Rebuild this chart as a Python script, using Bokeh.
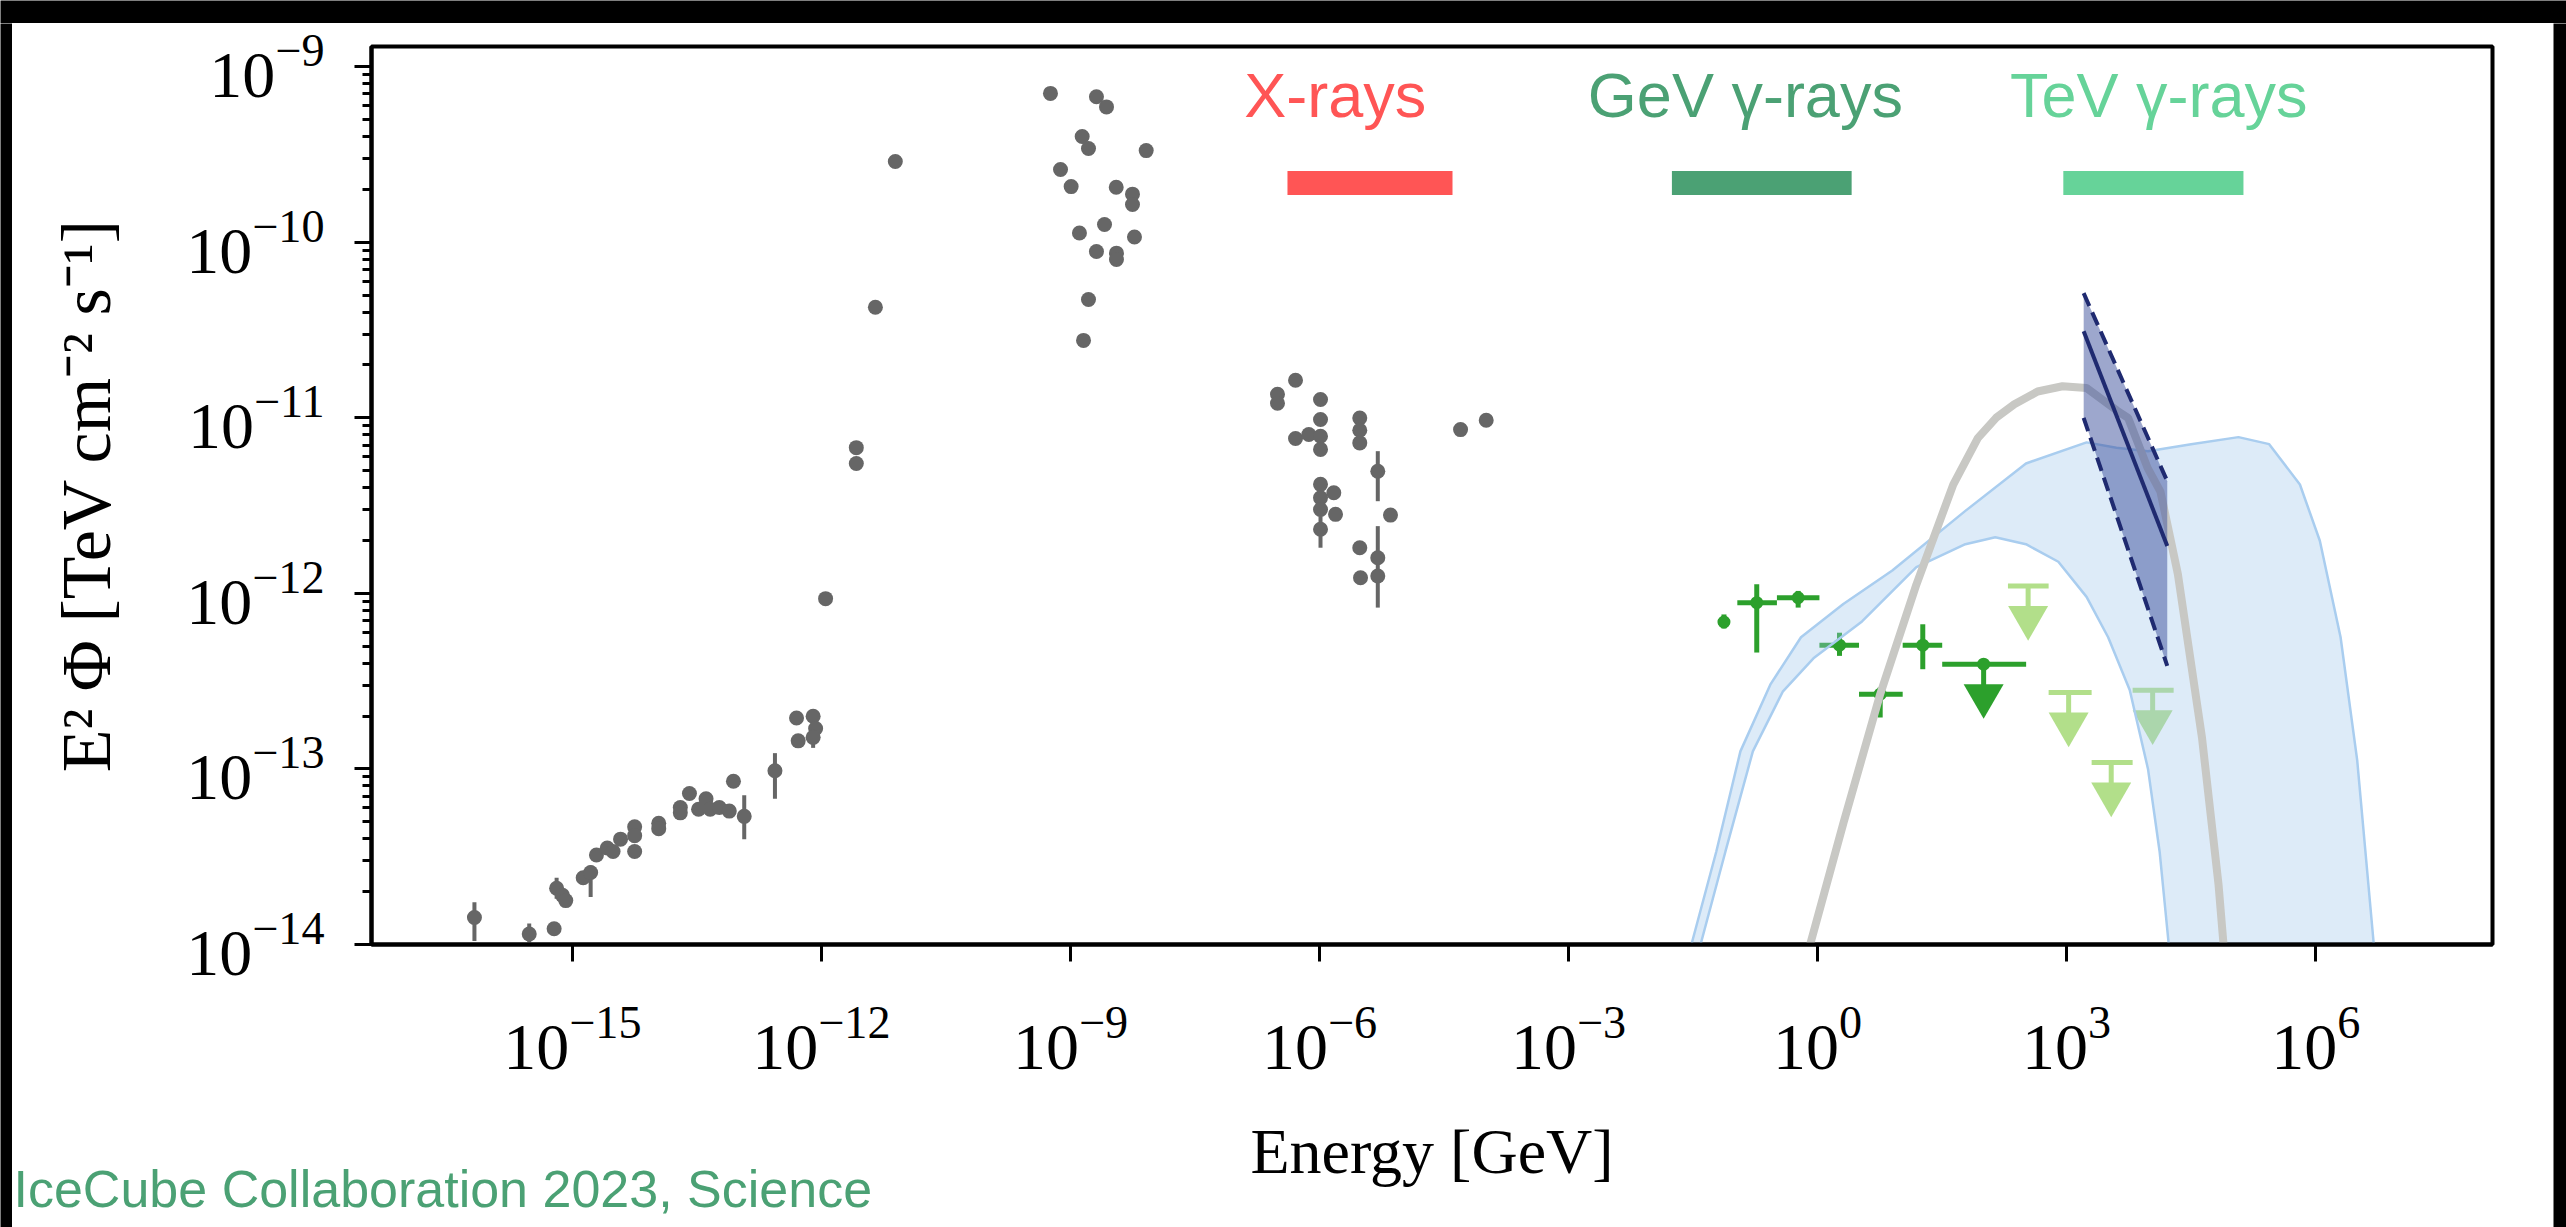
import numpy as np
from bokeh.plotting import figure
from bokeh.layouts import column, row
from bokeh.models import Range1d, FixedTicker, LogTickFormatter, Label
from bokeh.embed import file_html
from bokeh.resources import INLINE
from bokeh.core.properties import value

# ---------------- data: log10(E / GeV) and log10(E^2 Phi / TeV cm^-2 s^-1) ----------------
# multi-wavelength SED (grey points)
sed_log_e = [-16.18, -15.52, -15.22, -15.19, -15.12, -15.08, -14.87, -14.78, -14.71, -14.58,
             -14.51, -14.42, -14.25, -14.25, -14.25, -13.96, -13.96, -13.70, -13.70, -13.59,
             -13.48, -13.39, -13.34, -13.23, -13.11, -13.06, -12.93, -12.56, -12.30, -12.10,
             -12.07, -12.28, -12.10, -11.95, -11.58, -11.58, -11.35, -11.11,
             -9.241, -8.687, -8.566, -8.859, -8.783, -8.088, -9.120, -8.992, -8.449, -8.253,
             -8.253, -8.590, -8.892, -8.229, -8.687, -8.446, -8.446, -8.783, -8.843,
             -6.506, -6.506, -6.289, -5.988, -5.988, -6.289, -6.129, -5.988, -5.988, -5.515,
             -5.515, -5.515, -5.298, -5.988, -5.988, -5.988, -5.828, -5.807, -5.988, -5.145,
             -5.515, -5.298, -5.506, -5.298, -4.301, -3.992]
sed_log_f = [-13.846, -13.94, -13.91, -13.68, -13.72, -13.75, -13.62, -13.59, -13.49, -13.45,
             -13.47, -13.40, -13.33, -13.38, -13.47, -13.31, -13.34, -13.22, -13.25, -13.14,
             -13.23, -13.17, -13.23, -13.22, -13.24, -13.07, -13.27, -13.01, -12.71, -12.70,
             -12.77, -12.84, -12.82, -12.03, -11.17, -11.26, -10.37, -9.54,
             -9.152, -9.171, -9.229, -9.398, -9.466, -9.478, -9.586, -9.683, -9.687, -9.726,
             -9.785, -9.899, -9.947, -9.970, -10.053, -10.062, -10.098, -10.326, -10.559,
             -10.866, -10.917, -10.786, -10.896, -11.010, -11.118, -11.095, -11.105, -11.180, -11.001,
             -11.071, -11.143, -11.304, -11.379, -11.456, -11.522, -11.427, -11.550, -11.635, -11.554,
             -11.740, -11.797, -11.911, -11.901, -11.067, -11.014]
sed_err_log_e = [-16.18, -15.52, -15.19, -14.78, -12.93, -12.56, -12.10, -5.298, -5.988, -5.298]
sed_err_log_lo = [-13.98, -13.99, -13.74, -13.73, -13.40, -13.17, -12.88, -11.475, -11.74, -12.081]
sed_err_log_hi = [-13.76, -13.88, -13.62, -13.55, -13.15, -12.91, -12.66, -11.190, -11.56, -11.617]

# Fermi-LAT GeV points (dark green)
gev_log_e = [-1.128, -0.733, -0.234, 0.264, 0.754, 1.267]
gev_log_e_lo = [-1.20, -0.967, -0.490, 0.022, 0.499, 1.025]
gev_log_e_hi = [-1.06, -0.490, 0.022, 0.499, 1.025, 1.501]
gev_log_f = [-12.163, -12.053, -12.025, -12.295, -12.574, -12.295]
gev_log_f_lo = [-12.20, -12.337, -12.081, -12.356, -12.707, -12.432]
gev_log_f_hi = [-12.12, -11.948, -11.986, -12.224, -12.536, -12.176]
# GeV upper limit (dark green)
gev_ul_log_e = [2.00]
gev_ul_log_e_lo = [1.501]
gev_ul_log_e_hi = [2.512]
gev_ul_log_f = [-12.403]
# TeV upper limits (light green)
tev_ul_log_e = [2.536, 3.024, 3.537, 4.036]
tev_ul_log_e_lo = [2.293, 2.783, 3.301, 3.795]
tev_ul_log_e_hi = [2.783, 3.301, 3.795, 4.289]
tev_ul_log_f = [-11.958, -12.565, -12.963, -12.552]

# model curve (grey)
model_log_e = [-0.30, -0.09, 0.31, 0.754, 1.19, 1.634, 1.93, 2.15, 2.37, 2.65, 2.95, 3.24, 3.61,
               3.74, 3.975, 4.13, 4.34, 4.63, 4.83, 4.89, 4.95]
model_log_f = [-14.6, -14.0, -13.31, -12.574, -11.95, -11.38, -11.116, -11.00, -10.923, -10.85,
               -10.82, -10.83, -10.96, -11.0, -11.285, -11.42, -11.89, -12.82, -13.66, -14.0, -14.6]

# model uncertainty band (light blue): upper and lower edges
band_up_log_e = [-1.60, -1.52, -1.22, -0.93, -0.57, -0.20, 0.31, 0.90, 1.78, 2.51, 3.24, 3.60,
                 3.98, 4.50, 5.07, 5.44, 5.81, 6.05, 6.30, 6.50, 6.70, 6.80]
band_up_log_f = [-14.6, -14.0, -13.47, -12.90, -12.52, -12.25, -12.06, -11.87, -11.53, -11.26,
                 -11.14, -11.17, -11.19, -11.15, -11.11, -11.15, -11.38, -11.70, -12.25, -12.95,
                 -14.0, -14.6]
band_lo_log_e = [-1.45, -1.41, -1.11, -0.78, -0.42, -0.05, 0.535, 1.19, 1.78, 2.14, 2.51, 2.90,
                 3.24, 3.50, 3.76, 3.98, 4.12, 4.23, 4.27]
band_lo_log_f = [-14.6, -14.0, -13.47, -12.90, -12.56, -12.37, -12.16, -11.85, -11.72, -11.68,
                 -11.72, -11.82, -12.02, -12.25, -12.55, -13.00, -13.47, -14.0, -14.6]

# IceCube neutrino power law (butterfly)
nu_log_e = [3.205, 4.212]
nu_log_f_best = [-10.507, -11.730]
nu_log_f_up = [-10.290, -11.361]
nu_log_f_lo = [-11.000, -12.413]

# energy-band annotations
band_names = ["X-rays", "GeV \u03b3-rays", "TeV \u03b3-rays"]
band_log_e_lo = [-6.386, -1.755, 2.96]
band_log_e_hi = [-4.398, 0.41, 5.13]
band_label_log_e = [-5.81, -0.87, 4.11]
band_colors = ["#FF5555", "#4BA174", "#66D399"]

x_tick_exps = [-15, -12, -9, -6, -3, 0, 3, 6]
y_tick_exps = [-14, -13, -12, -11, -10, -9]

x_title = "Energy [GeV]"
y_title = "E\u00b2 \u03a6 [TeV cm\u207b\u00b2 s\u207b\u00b9]"
credit_text = "IceCube Collaboration 2023, Science"

# ---------------- helpers ----------------
def tp(a):
    return [10.0 ** v for v in a]

def no_title(fig):
    if fig.title is not None:
        fig.title.visible = False
    fig.title_location = None

SERIF = "Liberation Serif"
SANS = "Liberation Sans"
GREY = "#666666"
DKGREEN = "#2ca02c"
LTGREEN = "#b2df8a"
NAVY = "#1f2a70"

FRAME_L, FRAME_R, FRAME_T, FRAME_B = 359, 61, 23, 172
MAIN_W = 2541
MAIN_H = FRAME_T + 898 + FRAME_B   # chart canvas (frame + axes)
LOWER_H = 1204 - MAIN_H            # strip below it: x title and credit line

p = figure(width=MAIN_W, height=MAIN_H, x_axis_type="log", y_axis_type="log",
           x_range=Range1d(10 ** -17.42, 10 ** 8.13), y_range=Range1d(1e-14, 10 ** -8.885),
           output_backend="svg", toolbar_location=None,
           min_border_left=FRAME_L, min_border_right=FRAME_R, min_border_top=FRAME_T,
           min_border_bottom=FRAME_B)
no_title(p)
p.background_fill_color = "white"
p.border_fill_color = "white"
p.grid.visible = False
p.outline_line_color = "black"
p.outline_line_width = 4

# axes
p.xaxis.ticker = FixedTicker(ticks=[10.0 ** k for k in x_tick_exps], minor_ticks=[])
p.yaxis.ticker = FixedTicker(ticks=[10.0 ** k for k in y_tick_exps],
                             minor_ticks=[m * 10.0 ** k for k in range(-15, -8) for m in range(2, 10)])
for ax in (p.xaxis[0], p.yaxis[0]):
    ax.formatter = LogTickFormatter()
    ax.axis_line_width = 4
    ax.axis_line_color = "black"
    ax.major_tick_line_width = 3
    ax.minor_tick_line_width = 3
    ax.major_tick_in = 0
    ax.minor_tick_in = 0
    ax.major_tick_out = 17
    ax.minor_tick_out = 9
    ax.major_label_text_font = SERIF
    ax.major_label_text_font_size = "66px"
    ax.major_label_text_color = "black"
    ax.axis_label_text_font = SERIF
    ax.axis_label_text_font_style = "normal"
    ax.axis_label_text_color = "black"
p.xaxis.minor_tick_out = 0
p.xaxis.major_label_standoff = 46
p.yaxis.major_label_standoff = 30
p.yaxis.axis_label = y_title
p.yaxis.axis_label_text_font_size = "70px"
p.yaxis.axis_label_standoff = 58

# grey SED
p.segment(x0=tp(sed_err_log_e), x1=tp(sed_err_log_e), y0=tp(sed_err_log_lo), y1=tp(sed_err_log_hi),
          line_color=GREY, line_width=4)
p.scatter(x=tp(sed_log_e), y=tp(sed_log_f), size=15, color=GREY, line_width=0)

# GeV points
p.segment(x0=tp(gev_log_e_lo), x1=tp(gev_log_e_hi), y0=tp(gev_log_f), y1=tp(gev_log_f),
          line_color=DKGREEN, line_width=5)
p.segment(x0=tp(gev_log_e), x1=tp(gev_log_e), y0=tp(gev_log_f_lo), y1=tp(gev_log_f_hi),
          line_color=DKGREEN, line_width=5)
p.scatter(x=tp(gev_log_e), y=tp(gev_log_f), size=13, color=DKGREEN, line_width=0)

UL_DROP = 10 ** -0.18
def upper_limits(le, llo, lhi, lf, color, dot):
    f = tp(lf)
    p.segment(x0=tp(llo), x1=tp(lhi), y0=f, y1=f, line_color=color, line_width=5)
    p.segment(x0=tp(le), x1=tp(le), y0=f, y1=[v * UL_DROP for v in f], line_color=color, line_width=5)
    p.scatter(x=tp(le), y=[v * UL_DROP for v in f], marker="inverted_triangle", size=40,
              color=color, line_width=0)
    if dot:
        p.scatter(x=tp(le), y=f, size=13, color=color, line_width=0)

upper_limits(gev_ul_log_e, gev_ul_log_e_lo, gev_ul_log_e_hi, gev_ul_log_f, DKGREEN, True)
upper_limits(tev_ul_log_e, tev_ul_log_e_lo, tev_ul_log_e_hi, tev_ul_log_f, LTGREEN, False)

# uncertainty band
bx = tp(band_up_log_e) + tp(band_lo_log_e)[::-1]
by = tp(band_up_log_f) + tp(band_lo_log_f)[::-1]
p.patch(x=bx, y=by, fill_color="#9ec5ea", fill_alpha=0.35, line_color=None)
p.line(x=tp(band_up_log_e), y=tp(band_up_log_f), line_color="#a9cdef", line_width=2.5)
p.line(x=tp(band_lo_log_e), y=tp(band_lo_log_f), line_color="#a9cdef", line_width=2.5)

# model curve
p.line(x=tp(model_log_e), y=tp(model_log_f), line_color="#c8c8c4", line_width=8)

# IceCube butterfly
p.patch(x=tp(nu_log_e) + tp(nu_log_e)[::-1], y=tp(nu_log_f_up) + tp(nu_log_f_lo)[::-1],
        fill_color="#3b4f9c", fill_alpha=0.5, line_color=None)
p.line(x=tp(nu_log_e), y=tp(nu_log_f_up), line_color=NAVY, line_width=4, line_dash="14 7")
p.line(x=tp(nu_log_e), y=tp(nu_log_f_lo), line_color=NAVY, line_width=4, line_dash="14 7")
p.line(x=tp(nu_log_e), y=tp(nu_log_f_best), line_color=NAVY, line_width=4)

# energy band markers
BAR_TOP = 10 ** -9.594
BAR_BOTTOM = 10 ** -9.731
LABEL_Y = 10 ** -9.16
p.quad(left=tp(band_log_e_lo), right=tp(band_log_e_hi), top=BAR_TOP, bottom=BAR_BOTTOM,
       fill_color=band_colors, line_color=None)
p.text(x=tp(band_label_log_e), y=[LABEL_Y] * 3, text=band_names, text_color=band_colors,
       text_font=value(SANS), text_font_size="63px", text_align="center",
       text_baseline="alphabetic")

# ---------------- lower strip (x title, credit) and black slide border ----------------
def block(w, h, color):
    b = figure(width=w, height=h, toolbar_location=None, output_backend="svg",
               x_axis_location=None, y_axis_location=None, min_border=0,
               x_range=Range1d(0, 1), y_range=Range1d(0, 1))
    no_title(b)
    b.grid.visible = False
    b.outline_line_color = None
    b.background_fill_color = color
    b.border_fill_color = color
    try:
        b.frame_align = False
    except Exception:
        pass
    return b

lower = block(MAIN_W, LOWER_H, "white")
frame_center_x = FRAME_L + (MAIN_W - FRAME_L - FRAME_R) / 2
lower.add_layout(Label(x=frame_center_x, y=76, x_units="screen", y_units="screen",
                       text=x_title, text_color="black", text_font=SERIF, text_font_size="64px",
                       text_align="center", text_baseline="alphabetic"))
lower.add_layout(Label(x=1, y=39, x_units="screen", y_units="screen", text=credit_text,
                       text_color="#4BA174", text_font=SANS, text_font_size="52px",
                       text_baseline="alphabetic"))

layout = column(block(2566, 23, "black"),
                row(block(12, MAIN_H + LOWER_H, "black"),
                    column(p, lower, spacing=0),
                    block(13, MAIN_H + LOWER_H, "black"), spacing=0),
                spacing=0)

open("out.html", "w").write(file_html(layout, INLINE))
